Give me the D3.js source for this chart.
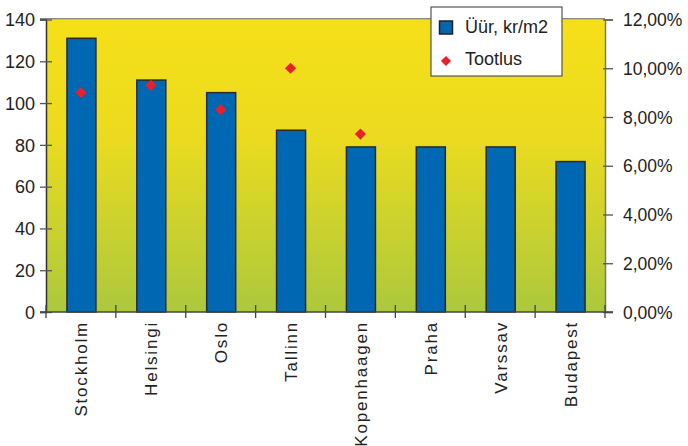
<!DOCTYPE html>
<html>
<head>
<meta charset="utf-8">
<script src="https://cdn.jsdelivr.net/npm/d3@7/dist/d3.min.js"></script>
<style>
  html, body { margin: 0; padding: 0; background: #fff; }
  svg { display: block; font-family: "Liberation Sans", Arial, sans-serif; }
</style>
</head>
<body>
<svg id="chart" width="688" height="446"></svg>
<script>
// City rent (kr/m2) and yield (%) data
const cities = ["Stockholm", "Helsingi", "Oslo", "Tallinn", "Kopenhaagen", "Praha", "Varssav", "Budapest"];
const rent = [131, 111, 105, 87, 79, 79, 79, 72];
const yieldCities = ["Stockholm", "Helsingi", "Oslo", "Tallinn", "Kopenhaagen"];
const yieldPct = [9.0, 9.3, 8.3, 10.0, 7.3];
const leftTicks = [0, 20, 40, 60, 80, 100, 120, 140];
const rightTicks = [0, 2, 4, 6, 8, 10, 12];
const legendLabels = ["Üür, kr/m2", "Tootlus"];

const svg = d3.select("#chart");
const plot = { left: 46, right: 605, top: 19.5, bottom: 312 };

const x = d3.scaleBand().domain(cities).range([plot.left, plot.right]).paddingInner(0).paddingOuter(0);
const yL = d3.scaleLinear().domain([0, 140]).range([plot.bottom, plot.top]);
const yR = d3.scaleLinear().domain([0, 12]).range([plot.bottom, plot.top]);

// Background gradient
const defs = svg.append("defs");
const grad = defs.append("linearGradient").attr("id", "bg").attr("x1", 0).attr("y1", 0).attr("x2", 0).attr("y2", 1);
grad.append("stop").attr("offset", "0%").attr("stop-color", "#f6df18");
grad.append("stop").attr("offset", "40%").attr("stop-color", "#ebdb1f");
grad.append("stop").attr("offset", "100%").attr("stop-color", "#acc83c");

svg.append("rect")
  .attr("x", plot.left).attr("y", plot.top)
  .attr("width", plot.right - plot.left).attr("height", plot.bottom - plot.top)
  .attr("fill", "url(#bg)");

// Top border line
svg.append("line")
  .attr("x1", 40).attr("x2", plot.right)
  .attr("y1", plot.top - 0.8).attr("y2", plot.top - 0.8)
  .attr("stroke", "#8a8a8a").attr("stroke-width", 1.5);

// Bars
const barW = 29;
svg.append("g").selectAll("rect")
  .data(cities)
  .join("rect")
  .attr("x", (d) => x(d) + x.bandwidth() / 2 - barW / 2 + 0.5)
  .attr("y", (d, i) => yL(rent[i]))
  .attr("width", barW)
  .attr("height", (d, i) => plot.bottom - yL(rent[i]))
  .attr("fill", "#0067b2")
  .attr("stroke", "#2a2a2a")
  .attr("stroke-width", 1.5);

// Yield diamonds
const diamond = d3.symbol().type(d3.symbolDiamond2).size(80);
svg.append("g").selectAll("path")
  .data(yieldCities)
  .join("path")
  .attr("d", diamond)
  .attr("transform", (d, i) => `translate(${x(d) + x.bandwidth() / 2},${yR(yieldPct[i])})`)
  .attr("fill", "#e8202a");

const tickFont = "18px";

// Left axis
const leftAxis = svg.append("g")
  .attr("transform", `translate(${plot.left},0)`)
  .call(d3.axisLeft(yL).tickValues(leftTicks).tickSize(6).tickPadding(3));
leftAxis.select(".domain").attr("stroke", "#333").attr("stroke-width", 1.5);
leftAxis.selectAll(".tick line").attr("stroke", "#555").attr("stroke-width", 1.3)
  .attr("x2", -6).attr("x1", 6);
leftAxis.selectAll(".tick text").attr("fill", "#222").style("font-size", tickFont)
  .attr("x", -11).attr("dy", "0.35em");

// Right axis
const rightAxis = svg.append("g")
  .attr("transform", `translate(${plot.right},0)`)
  .call(d3.axisRight(yR).tickValues(rightTicks).tickSize(8).tickPadding(10)
    .tickFormat((d) => d.toFixed(2).replace(".", ",") + "%"));
rightAxis.select(".domain").attr("stroke", "#777").attr("stroke-width", 1.5);
rightAxis.selectAll(".tick line").attr("stroke", "#555").attr("stroke-width", 1.3).attr("x1", -2);
rightAxis.selectAll(".tick text").attr("fill", "#222").style("font-size", "17.5px")
  .attr("x", 18).attr("dy", "0.35em");

// Bottom axis with ticks on category boundaries
const bottom = svg.append("g");
bottom.append("line")
  .attr("x1", 40).attr("x2", plot.right + 8)
  .attr("y1", plot.bottom).attr("y2", plot.bottom)
  .attr("stroke", "#444").attr("stroke-width", 1.5);
const boundaries = cities.map((c) => x(c)).concat([x(cities[cities.length - 1]) + x.bandwidth()]);
bottom.selectAll("line.b")
  .data(boundaries)
  .join("line")
  .attr("class", "b")
  .attr("x1", (d) => d).attr("x2", (d) => d)
  .attr("y1", plot.bottom - 7).attr("y2", plot.bottom + 6)
  .attr("stroke", "#444").attr("stroke-width", 1.3);

// Category labels, rotated
bottom.selectAll("text")
  .data(cities)
  .join("text")
  .attr("transform", (d) => `translate(${x(d) + x.bandwidth() / 2 + 1},${plot.bottom + 9}) rotate(-90)`)
  .attr("text-anchor", "end")
  .attr("dominant-baseline", "central")
  .style("font-size", "17px")
  .style("letter-spacing", "1.8px")
  .attr("fill", "#222")
  .text((d) => d);

// Legend
const lg = svg.append("g");
lg.append("rect")
  .attr("x", 431).attr("y", 7).attr("width", 131).attr("height", 69)
  .attr("fill", "#fff").attr("stroke", "#555").attr("stroke-width", 1.2);
lg.append("rect")
  .attr("x", 439.5).attr("y", 21).attr("width", 13).attr("height", 13)
  .attr("fill", "#0067b2").attr("stroke", "#222").attr("stroke-width", 1.5);
lg.append("path")
  .attr("d", d3.symbol().type(d3.symbolDiamond2).size(66))
  .attr("transform", "translate(446,61)")
  .attr("fill", "#e8202a");
lg.selectAll("text")
  .data(legendLabels)
  .join("text")
  .attr("x", 465)
  .attr("y", (d, i) => [32.5, 65][i])
  .style("font-size", "18px")
  .attr("fill", "#222")
  .text((d) => d);
</script>
</body>
</html>
